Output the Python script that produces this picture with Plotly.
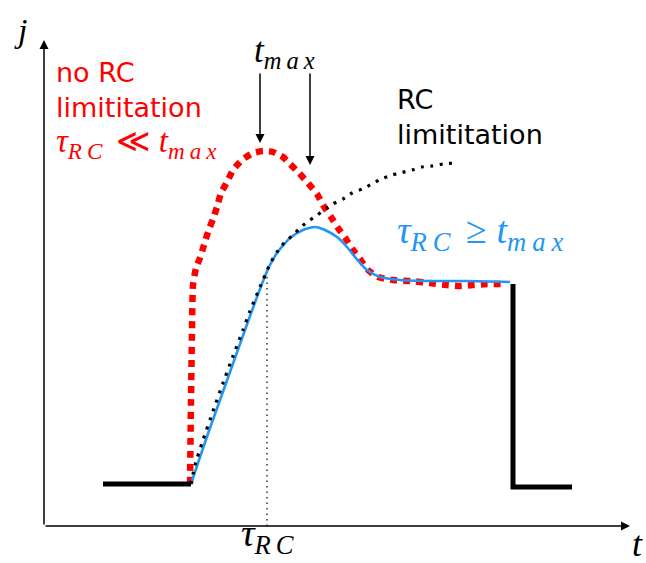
import plotly.graph_objects as go

# ---- data (in picture pixel units) ----
# red: no RC limitation
red_t = [190, 191, 192, 193, 196, 200, 204, 208, 213, 217, 221, 227, 233, 242, 253, 263, 273, 283, 290, 299, 308, 317, 323, 331, 338, 346, 353, 360, 368, 378, 393, 410, 430, 447, 460, 473, 487, 505]
red_j = [484, 400, 330, 285, 268, 258, 245, 232, 219, 207, 193, 182, 170, 160, 153, 151, 152, 157, 164, 173, 183, 194, 205, 217, 228, 239, 250, 259, 270, 277, 280, 281, 283, 285, 286, 285, 284, 284]

# blue: tau_RC >= t_max
blue_t = [191, 200, 210, 220, 230, 240, 250, 260, 268, 277, 290, 303, 315, 325, 337, 347, 355, 367, 380, 400, 433, 467, 510]
blue_j = [484, 457, 428, 400, 372, 344, 316, 289, 269, 253, 238, 230, 227, 230, 237, 247, 257, 270, 277, 280, 281, 281, 282]

# black dotted: RC limitation
rc_t = [191, 195, 203, 213, 223, 233, 243, 250, 260, 270, 277, 284, 292, 299, 307, 316, 324, 333, 343, 352, 362, 372, 381, 392, 400, 412, 422, 432, 443, 455]
rc_j = [484, 465, 440, 411, 383, 356, 330, 311, 287, 264, 252, 243, 236, 229, 222, 216, 210, 204, 199, 193, 189, 184, 179, 175, 173, 170, 167, 166, 164, 163]

# black step parts
base_left_t = [103, 191]
base_left_j = [484, 484]
base_right_t = [513, 513, 572]
base_right_j = [284, 487, 487]

# tau_RC marker
tau_t = [267, 267]
tau_j = [526, 268]

# axes
origin = (44, 526)
y_tip = (44, 40)
x_tip = (630, 526)
tmax_arrows = [((260, 72), (260, 143)), ((310, 72), (310, 165))]

W, H = 646, 563
SERIF = "Liberation Serif"
SANS = "DejaVu Sans"
RED = "#ff0000"
BLUE = "#2196f3"

fig = go.Figure()
fig.add_trace(go.Scatter(x=tau_t, y=tau_j, mode="lines",
                         line=dict(color="black", width=1.2, dash="1.5px,4px")))
fig.add_trace(go.Scatter(x=red_t, y=red_j, mode="lines",
                         line=dict(color=RED, width=6.5, dash="7px,6px", shape="spline", smoothing=0.5)))
fig.add_trace(go.Scatter(x=blue_t, y=blue_j, mode="lines",
                         line=dict(color=BLUE, width=2.6, shape="spline", smoothing=0.6)))
fig.add_trace(go.Scatter(x=rc_t, y=rc_j, mode="lines",
                         line=dict(color="black", width=3.2, dash="3px,6.5px", shape="spline", smoothing=0.5)))
fig.add_trace(go.Scatter(x=base_left_t, y=base_left_j, mode="lines",
                         line=dict(color="black", width=5)))
fig.add_trace(go.Scatter(x=base_right_t, y=base_right_j, mode="lines",
                         line=dict(color="black", width=5)))

ann = []
# axis arrows
for tip in (y_tip, x_tip):
    ann.append(dict(x=tip[0], y=tip[1], ax=origin[0], ay=origin[1], xref="x", yref="y",
                    axref="x", ayref="y", text="", showarrow=True, arrowhead=2,
                    arrowsize=1.2, arrowwidth=1.5, arrowcolor="black", standoff=0))
for tail, head in tmax_arrows:
    ann.append(dict(x=head[0], y=head[1], ax=tail[0], ay=tail[1], xref="x", yref="y",
                    axref="x", ayref="y", text="", showarrow=True, arrowhead=2,
                    arrowsize=1.2, arrowwidth=1.5, arrowcolor="black", standoff=0))


def txt(x, y, s, size, color="black", family=SANS, xanchor="left", yanchor="middle"):
    ann.append(dict(x=x, y=y, xref="x", yref="y", text=s, showarrow=False,
                    xanchor=xanchor, yanchor=yanchor, align="left",
                    font=dict(family=family, size=size, color=color)))


def tau_rc(sp):
    return ("<i>τ</i><sub><span style=\"letter-spacing:%dpx\"><i>RC</i></span></sub>" % sp)


def t_max(sp):
    return ("<i>t</i><sub><span style=\"letter-spacing:%dpx\"><i>max</i></span></sub>" % sp)


NB = "\u00a0"

txt(20, 30, "<i>j</i>", 34, family=SERIF, xanchor="center")
txt(637, 544, "<i>t</i>", 36, family=SERIF, xanchor="center")
txt(287, 52, t_max(5), 35, family=SERIF, xanchor="center")
txt(270, 536, tau_rc(5), 38, family=SERIF, xanchor="center")

txt(54, 55, "no RC<br>limititation", 27, color=RED, yanchor="top")
txt(54, 143, tau_rc(5) + NB + "≪" + NB + t_max(5), 33, color=RED, family=SERIF)

txt(395, 82, "RC<br>limititation", 27, yanchor="top")
txt(395, 233, tau_rc(6) + NB + "≥" + NB + t_max(6), 38, color=BLUE, family=SERIF)

fig.update_layout(
    width=W, height=H, margin=dict(l=0, r=0, t=0, b=0),
    paper_bgcolor="white", plot_bgcolor="white", showlegend=False,
    xaxis=dict(range=[0, W], visible=False, fixedrange=True),
    yaxis=dict(range=[H, 0], visible=False, fixedrange=True),
    annotations=ann,
)
fig.write_html("out.html")
